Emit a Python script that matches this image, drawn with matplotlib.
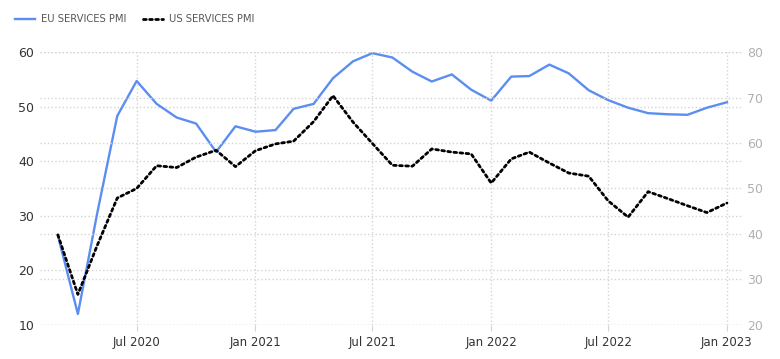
import pandas as pd
import matplotlib
matplotlib.use('Agg')
import matplotlib.pyplot as plt
import matplotlib.dates as mdates

# monthly data, Mar 2020 - Jan 2023
months = pd.date_range('2020-03-01', '2023-01-01', freq='MS')

eu_pmi = [26.4, 12.0, 30.5, 48.3, 54.7, 50.5, 48.0, 46.9, 41.7, 46.4,
          45.4, 45.7, 49.6, 50.5, 55.2, 58.3, 59.8, 59.0, 56.4, 54.6,
          55.9, 53.1, 51.1, 55.5, 55.6, 57.7, 56.1, 53.0, 51.2, 49.8,
          48.8, 48.6, 48.5, 49.8, 50.8]

us_pmi = [39.8, 26.7, 37.5, 47.9, 50.0, 55.0, 54.6, 56.9, 58.4, 54.8,
          58.3, 59.8, 60.4, 64.7, 70.4, 64.6, 59.9, 55.1, 54.9, 58.7,
          58.0, 57.6, 51.2, 56.5, 58.0, 55.6, 53.4, 52.7, 47.3, 43.7,
          49.3, 47.8, 46.2, 44.7, 46.8]

left_ticks = [10, 20, 30, 40, 50, 60]
right_ticks = [20, 30, 40, 50, 60, 70, 80]

fig = plt.figure(figsize=(7.8, 3.59), dpi=100)
ax = fig.add_axes([0.051, 0.095, 0.9, 0.76])
ax2 = ax.twinx()

grid_kw = dict(color='#d4d4d4', linestyle=':', linewidth=1.0)

l1, = ax.plot(months, eu_pmi, color='#5b8ef0', linewidth=1.7, clip_on=False, zorder=3)
l2, = ax2.plot(months, us_pmi, color='black', linewidth=2.0, linestyle=(0, (1, 1.2)),
               dash_capstyle='round', clip_on=False, zorder=3)

ax.set_ylim(10, 60)
ax.set_yticks(left_ticks)
ax2.set_ylim(20, 80)
ax2.set_yticks(right_ticks)

ax.set_xlim(pd.Timestamp('2020-02-02'), pd.Timestamp('2023-01-24'))
ax.xaxis.set_major_locator(mdates.MonthLocator(bymonth=[1, 7]))
ax.xaxis.set_major_formatter(mdates.DateFormatter('%b %Y'))

ax.grid(True, axis='both', **grid_kw)
ax2.grid(True, axis='y', **grid_kw)
ax.set_axisbelow(True)
ax2.set_axisbelow(True)

for a in (ax, ax2):
    for s in a.spines.values():
        s.set_visible(False)

ax.tick_params(axis='y', length=0, pad=4, labelsize=9, labelcolor='#333333')
ax.tick_params(axis='x', length=4, color='#d4d4d4', pad=4, labelsize=8.5, labelcolor='#333333')
ax2.tick_params(axis='y', length=0, pad=4, labelsize=9, labelcolor='#b0b0b0')

fig.legend([l1, l2], ['EU SERVICES PMI', 'US SERVICES PMI'],
           loc='upper left', bbox_to_anchor=(0.008, 0.985), ncol=2, frameon=False,
           fontsize=7.2, handlelength=2.0, handletextpad=0.6, columnspacing=1.6,
           labelcolor='#555555')

fig.savefig('out.png', dpi=100)
